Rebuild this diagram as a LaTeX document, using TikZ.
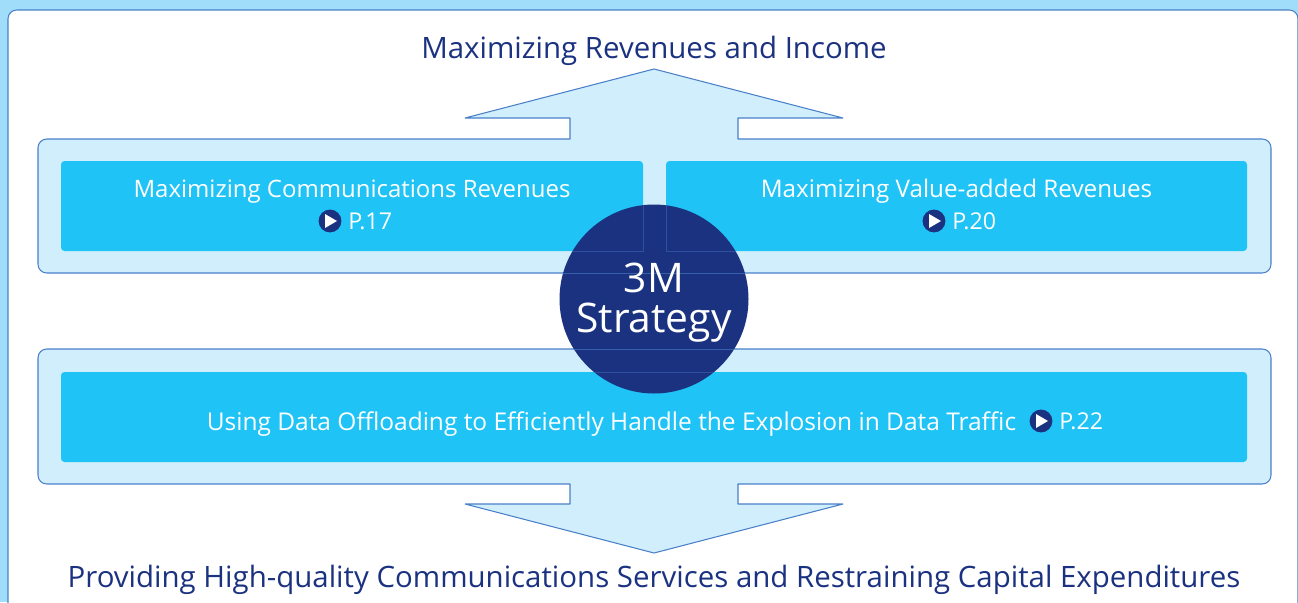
\documentclass[tikz,border=0pt]{standalone}
\usepackage{fontspec}
\setmainfont{Open Sans}
\definecolor{skyback}{HTML}{9FDDFB}
\definecolor{panelblue}{HTML}{D1EEFC}
\definecolor{cyanbox}{HTML}{1FC3F5}
\definecolor{navyblue}{HTML}{1B3281}
\definecolor{edgeblue}{HTML}{4A80C8}
\tikzset{
  headtext/.style={text=navyblue,font=\fontsize{16.75}{20}\selectfont,inner sep=0pt},
  boxtext/.style={text=white,font=\fontsize{#1}{16}\selectfont,inner sep=0pt},
  pagetext/.style={text=white,font=\fontsize{13.2}{16}\selectfont,inner sep=0pt},
  playdot/.style={circle,fill=navyblue,minimum size=13pt,inner sep=0pt},
  playmark/.style={fill=white,draw=none},
  cyanrect/.style={fill=cyanbox,rounded corners=2pt},
  panelline/.style={draw=edgeblue,fill=panelblue,line width=0.6pt,line join=bevel}
}
\begin{document}
\begin{tikzpicture}[x=0.02cm,y=-0.02cm]
\useasboundingbox (0,0) rectangle (1298,602);
\fill[skyback] (0,0) rectangle (1298,602);
\draw[edgeblue,fill=white,line width=0.6pt,rounded corners=5pt] (8,640) -- (8,10) -- (1298,10) -- (1298,640);
% upper panel with arrow
\draw[panelline] (570,139) -- (570,118) -- (465,118) -- (654,69) -- (843,118) -- (738,118) -- (738,139)
  [rounded corners=5pt] -- (1271,139) -- (1271,273) -- (38,273) -- (38,139) [sharp corners] -- cycle;
% lower panel with arrow
\draw[panelline] (570,484) -- (570,504) -- (465,504) -- (654,553) -- (843,504) -- (738,504) -- (738,484)
  [rounded corners=5pt] -- (1271,484) -- (1271,349) -- (38,349) -- (38,484) [sharp corners] -- cycle;
\fill[panelblue] (571,135) rectangle (737,143);
\fill[panelblue] (571,480) rectangle (737,488);
% cyan boxes
\fill[cyanrect] (61,161) rectangle (643,251);
\fill[cyanrect] (666,161) rectangle (1247,251);
\fill[cyanrect] (61,372) rectangle (1247,462);
% circle, with the lines showing faintly through it
\fill[navyblue] (654,299) circle (94.5);
\begin{scope}
\clip (654,299) circle (94.5);
\draw[edgeblue,opacity=0.4,line width=0.5pt] (500,251) -- (643,251) -- (643,190);
\draw[edgeblue,opacity=0.4,line width=0.5pt] (800,251) -- (666,251) -- (666,190);
\draw[edgeblue,opacity=0.6,line width=0.5pt] (500,273) -- (800,273);
\draw[edgeblue,opacity=0.6,line width=0.5pt] (500,349) -- (800,349);
\draw[edgeblue,opacity=0.4,line width=0.5pt] (500,372) -- (800,372);
\end{scope}
\draw (654,302.5) node[text=white,align=center,inner sep=0pt,font=\fontsize{23.2}{22.8}\selectfont] (strategy) {3M\\Strategy};
% texts
\draw (654,51) node[headtext] (revenues) {Maximizing Revenues and Income};
\draw (654,580) node[headtext] (services) {Providing High-quality Communications Services and Restraining Capital Expenditures};
\draw (352,192) node[boxtext=13.65] (commrev) {Maximizing Communications Revenues};
\draw (956.5,191) node[boxtext=13.8] (valuerev) {Maximizing Value-added Revenues};
\draw (611.5,424) node[boxtext=13.94] (offload) {Using Data Offloading to Efficiently Handle the Explosion in Data Traffic};
% page marks
\foreach \px/\py/\pname/\ptext in {330/221/a/P.17,934/221/b/P.20,1041/421/c/P.22}{
  \draw (\px,\py) node[playdot] (dot\pname) {};
  \fill[playmark] (\px-5,\py-7) -- (\px+7,\py) -- (\px-5,\py+7) -- cycle;
  \draw (\px+18,\py) node[pagetext,anchor=west] (page\pname) {\ptext};
}
\end{tikzpicture}
\end{document}
